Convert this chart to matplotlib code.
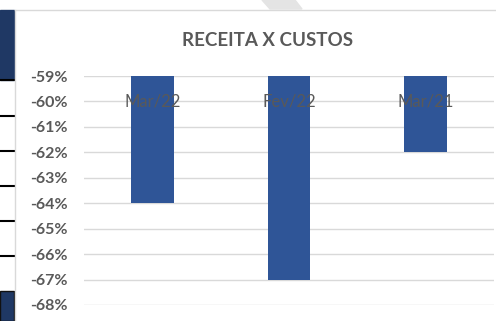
import matplotlib
matplotlib.use("Agg")
import matplotlib.pyplot as plt
from matplotlib.patches import Rectangle, Polygon
from matplotlib.lines import Line2D
from matplotlib.ticker import FuncFormatter

# data
categories = ["Mar/22", "Fev/22", "Mar/21"]
values = [-64, -67, -62]
y_ticks = list(range(-68, -58))

W, H = 496, 321
plt.rcParams['font.family'] = ['Lato', 'DejaVu Sans']

fig = plt.figure(figsize=(W / 100, H / 100), dpi=100)


def fx(x):
    return x / W


def fy(y):
    return 1 - y / H


# leftover bits of the spreadsheet at the left edge of the screenshot
fig.patches.append(Rectangle((0, fy(80)), fx(14), fy(10) - fy(80),
                             transform=fig.transFigure, color="#1f3864"))
fig.patches.append(Rectangle((0, 0), fx(14), fy(291), transform=fig.transFigure,
                             facecolor="#1f3864", edgecolor="#111111", lw=1))
for yy in [80, 116, 151, 186, 221, 256]:
    fig.lines.append(Line2D([0, fx(14)], [fy(yy), fy(yy)], transform=fig.transFigure,
                            color="black", lw=1.5))
# chart border and pointer shadow at top
fig.lines.append(Line2D([fx(15), fx(15)], [0, fy(10)], transform=fig.transFigure,
                        color="#d9d9d9", lw=1))
fig.lines.append(Line2D([fx(15), 1], [fy(10), fy(10)], transform=fig.transFigure,
                        color="#d9d9d9", lw=1))
fig.patches.append(Polygon([(fx(262), fy(0)), (fx(295), fy(0)), (fx(302), fy(9)), (fx(270), fy(9))],
                           closed=True, transform=fig.transFigure, color="#e4e4e4"))

ax = fig.add_axes([fx(84), fy(305), fx(494) - fx(84), fy(76) - fy(305)])
x = range(len(categories))
ax.bar(x, values, width=0.31, color="#2F5597", zorder=2)
ax.set_xlim(-0.5, len(categories) - 0.5)
ax.set_ylim(-68, -59)
ax.set_yticks(y_ticks)
ax.yaxis.set_major_formatter(FuncFormatter(lambda v, p: "{:.0f}%".format(v)))
ax.grid(axis="y", color="#d9d9d9", lw=1, zorder=0)
ax.set_axisbelow(True)
ax.tick_params(axis="y", length=0, pad=12, labelsize=11.5, labelcolor="#595959")
for lab in ax.get_yticklabels():
    lab.set_fontweight("bold")
ax.set_xticks([])
for s in ax.spines.values():
    s.set_visible(False)

# category labels sit inside the plot, just under the top gridline
for i, c in enumerate(categories):
    ax.text(i, -60, c, ha="center", va="center", fontsize=12, color="#595959", zorder=3)

fig.text(fx(268), fy(40), "RECEITA X CUSTOS", ha="center", va="center",
         fontsize=13.5, fontweight="bold", color="#595959")

fig.savefig("out.png", dpi=100)
